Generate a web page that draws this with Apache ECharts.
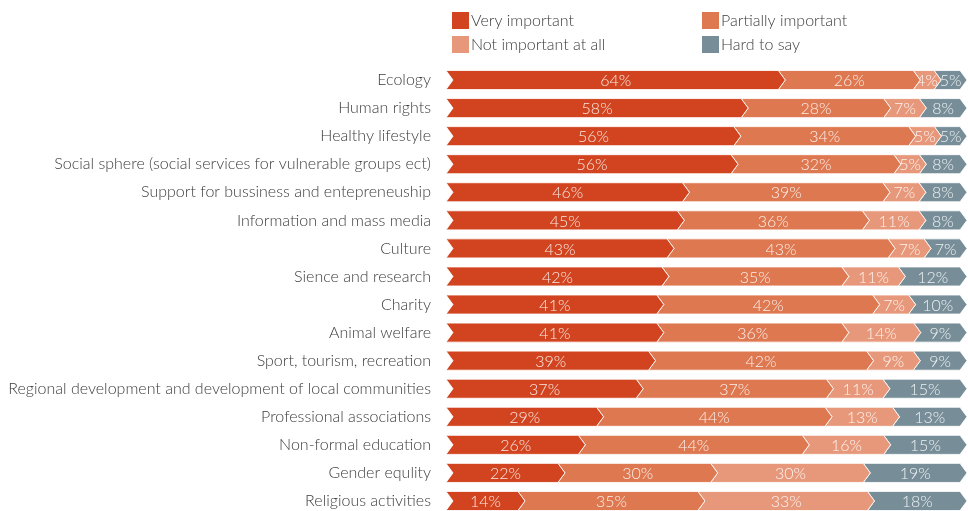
<!DOCTYPE html>
<html>
<head>
<meta charset="utf-8">
<script src="https://cdn.jsdelivr.net/npm/echarts@6/dist/echarts.min.js"></script>
<style>
  html, body { margin: 0; padding: 0; background: #fff; }
  #chart { width: 968px; height: 511px; }
</style>
</head>
<body>
<div id="chart"></div>
<script>
// Survey: importance of each field of activity (shares of respondents, %)
const categories = [
  'Ecology',
  'Human rights',
  'Healthy lifestyle',
  'Social sphere (social services for vulnerable groups ect)',
  'Support for bussiness and entepreneuship',
  'Information and mass media',
  'Culture',
  'Sience and research',
  'Charity',
  'Animal welfare',
  'Sport, tourism, recreation',
  'Regional development and development of local communities',
  'Professional associations',
  'Non-formal education',
  'Gender equlity',
  'Religious activities'
];
const veryImportant      = [64, 58, 56, 56, 46, 45, 43, 42, 41, 41, 39, 37, 29, 26, 22, 14];
const partiallyImportant = [26, 28, 34, 32, 39, 36, 43, 35, 42, 36, 42, 37, 44, 44, 30, 35];
const notImportant       = [4, 7, 5, 5, 7, 11, 7, 11, 7, 14, 9, 11, 13, 16, 30, 33];
const hardToSay          = [5, 8, 5, 8, 8, 8, 7, 12, 10, 9, 9, 15, 13, 15, 19, 18];

const seriesDefs = [
  { name: 'Very important',        values: veryImportant,      color: '#D1441F' },
  { name: 'Partially important',   values: partiallyImportant, color: '#DE7851' },
  { name: 'Not important at all',  values: notImportant,       color: '#E8987A' },
  { name: 'Hard to say',           values: hardToSay,          color: '#778E99' }
];

// 100% stacking: each row is scaled to its own total
const rowTotals = categories.map((_, i) =>
  seriesDefs.reduce((sum, s) => sum + s.values[i], 0));

function buildData(k) {
  return categories.map((_, i) => {
    let start = 0;
    for (let j = 0; j < k; j++) start += seriesDefs[j].values[i];
    const v = seriesDefs[k].values[i];
    const t = rowTotals[i];
    return [i, start / t * 100, (start + v) / t * 100, v];
  });
}

const ARROW = 7;

function makeRenderer(color) {
  return function (params, api) {
    const row = api.value(0);
    const p0 = api.coord([api.value(1), row]);
    const p1 = api.coord([api.value(2), row]);
    const h = api.size([0, 1])[1] * 0.68;
    const mid = p0[1];
    const top = mid - h / 2;
    const bot = mid + h / 2;
    const x0 = p0[0], x1 = p1[0];
    const points = [
      [x0, top], [x1, top], [x1 + ARROW, mid],
      [x1, bot], [x0, bot], [x0 + ARROW, mid]
    ];
    return {
      type: 'group',
      children: [
        {
          type: 'polygon',
          shape: { points: points },
          style: { fill: color, stroke: 'rgba(255,255,255,0.85)', lineWidth: 1 }
        },
        {
          type: 'text',
          style: {
            text: api.value(3) + '%',
            x: (x0 + x1) / 2 + ARROW / 2,
            y: mid + 1,
            align: 'center',
            verticalAlign: 'middle',
            fill: 'rgba(255,255,255,0.88)',
            font: '300 16px Lato, "Open Sans", sans-serif'
          },
          z2: 10
        }
      ]
    };
  };
}

const legendPos = [
  { left: 452, top: 12 },
  { left: 702, top: 12 },
  { left: 452, top: 36 },
  { left: 702, top: 36 }
];

const chart = echarts.init(document.getElementById('chart'), null, { renderer: 'canvas' });

chart.setOption({
  animation: false,
  color: seriesDefs.map(s => s.color),
  legend: seriesDefs.map((s, k) => ({
    data: [s.name],
    left: legendPos[k].left,
    top: legendPos[k].top,
    icon: 'rect',
    itemWidth: 17,
    itemHeight: 17,
    itemGap: 0,
    padding: 0,
    selectedMode: false,
    textStyle: {
      color: '#3c3c3c',
      fontSize: 16,
      fontFamily: 'Lato, "Open Sans", sans-serif',
      fontWeight: 300,
      padding: [0, 0, 0, -3]
    }
  })),
  grid: {
    left: 446,
    right: 8,
    top: 66,
    bottom: -4,
    containLabel: false,
    outerBoundsMode: 'none'
  },
  xAxis: {
    type: 'value',
    min: 0,
    max: 100,
    show: false
  },
  yAxis: {
    type: 'category',
    data: categories,
    inverse: true,
    axisLine: { show: false },
    axisTick: { show: false },
    splitLine: { show: false },
    axisLabel: {
      margin: 15,
      color: '#3c3c3c',
      fontSize: 16,
      fontFamily: 'Lato, "Open Sans", sans-serif',
      fontWeight: 300
    }
  },
  series: seriesDefs.map((s, k) => ({
    type: 'custom',
    name: s.name,
    itemStyle: { color: s.color },
    renderItem: makeRenderer(s.color),
    encode: { x: [1, 2], y: 0 },
    data: buildData(k),
    z: 10 - k
  }))
});
</script>
</body>
</html>
